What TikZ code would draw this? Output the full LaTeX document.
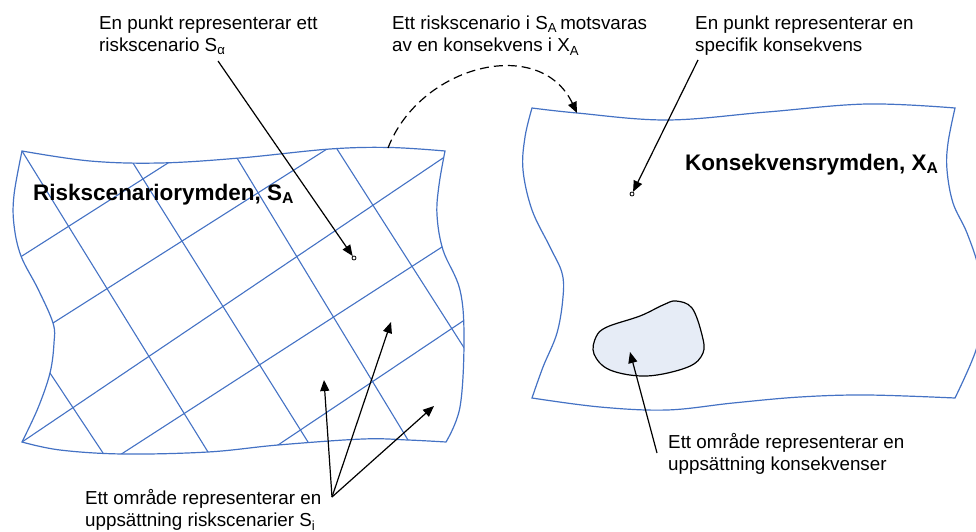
\documentclass[tikz,border=0pt]{standalone}
\usepackage{fontspec}
\setmainfont{Liberation Sans}
\usetikzlibrary{arrows.meta}
\definecolor{gridblue}{HTML}{4472C4}
\definecolor{blobfill}{RGB}{230,236,246}
\begin{document}
\begin{tikzpicture}[x=1pt,y=-1pt,
  txt/.style={anchor=base west, inner sep=0pt, align=left, font=\fontsize{18.8}{22.5}\selectfont},
  ttl/.style={anchor=base west, inner sep=0pt, font=\fontsize{22.5}{27}\selectfont\bfseries},
  edgeline/.style={draw=gridblue, line width=1.2pt},
  gridline/.style={gridblue, line width=1.1pt, shorten <=-25pt, shorten >=-25pt},
  arr/.style={draw=black, line width=1.2pt, -{Triangle[length=11pt,width=9pt]}},
  pt/.style={circle, draw=black, line width=0.8pt, inner sep=0pt, minimum size=4pt},
  leftpath/.style={insert path={(22,151)
    -- plot[smooth,tension=0.6] coordinates {(22,151) (90,161) (160,163) (240,158) (330,149) (390,147.5) (445,151)}
    -- plot[smooth,tension=0.6] coordinates {(445,151) (439,185) (437,215) (443,250) (460,290) (464,340) (460,407) (446,442)}
    -- plot[smooth,tension=0.6] coordinates {(446,442) (408,440) (363,439) (278,445) (208,452) (123,454) (60,450) (22,442)}
    -- plot[smooth,tension=0.6] coordinates {(22,442) (38,408) (50,373) (54,343) (53,323) (38,289) (21,256) (14,225) (14,195) (22,151)}
    -- cycle}},
  rightpath/.style={insert path={(532,108)
    -- plot[smooth,tension=0.6] coordinates {(532,108) (577,113) (667,120) (767,112) (867,104) (955,108)}
    -- plot[smooth,tension=0.6] coordinates {(955,108) (948,143) (947,170) (953,203) (967,233) (979,270) (983,310) (976,350) (955,398)}
    -- plot[smooth,tension=0.6] coordinates {(955,398) (867,395) (800,397) (733,403) (667,410) (600,407) (532,398)}
    -- plot[smooth,tension=0.6] coordinates {(532,398) (543,367) (557,333) (563,297) (562,273) (550,247) (532,210) (523,170) (525,137) (532,108)}
    -- cycle}}
]
\useasboundingbox (0,0) rectangle (976,532);

% left panel: grid clipped to the outline
\begin{scope}
  \clip[leftpath];
  \draw[gridline] (50,373) -- (103,453);
  \draw[gridline] (22,151) -- (208,452);
  \draw[gridline] (133,163) -- (308,442);
  \draw[gridline] (237,158) -- (408,440);
  \draw[gridline] (337,149) -- (461,343);
  \draw[gridline] (22,256) -- (168,163);
  \draw[gridline] (53,323) -- (327,149);
  \draw[gridline] (22,442) -- (443,158);
  \draw[gridline] (123,453) -- (442,247);
  \draw[gridline] (278,445) -- (460,323);
\end{scope}
\draw[edgeline, leftpath];

% right panel
\draw[edgeline, rightpath];

% region in the right panel
\draw[fill=blobfill, line width=1.2pt] plot[smooth cycle, tension=0.6] coordinates
  {(607,327) (640,316) (663,305) (676,301) (692,308) (702,335) (703,353) (688,367) (647,376) (610,370) (594,354) (596,337)};

% titles
\node[ttl] (sa) at (33,200) {Riskscenariorymden, S\textsubscript{A}};
\node[ttl] (xa) at (685,170) {Konsekvensrymden, X\textsubscript{A}};

% texts (base anchor = baseline of the last line)
\node[txt] (t1) at (99,52) {En punkt representerar ett\\riskscenario S\textsubscript{α}};
\node[txt] (t2) at (392,52) {Ett riskscenario i S\textsubscript{A}\,motsvaras\\av en konsekvens i X\textsubscript{A}};
\node[txt] (t3) at (695,52) {En punkt representerar en\\specifik konsekvens};
\node[txt] (t4) at (85,526.5) {Ett område representerar en\\uppsättning riskscenarier S\textsubscript{i}};
\node[txt] (t5) at (668,470.5) {Ett område representerar en\\uppsättning konsekvenser};

% points
\node[pt] (pa) at (354,258) {};
\node[pt] (px) at (632,194) {};

% connector ends
\coordinate (c1) at (218,61);
\coordinate (c3) at (698,60);
\coordinate (c4) at (332,497);
\coordinate (c5) at (657,453);
\coordinate (r1) at (324,380);
\coordinate (r2) at (391,322);
\coordinate (r3) at (434,406);
\coordinate (rb) at (630,352);
\coordinate (dstart) at (388,148);
\coordinate (dend) at (577,113);

% connectors
\draw[arr] (c1) -- (pa);
\draw[arr] (c3) -- (px);
\draw[arr] (c4) -- (r1);
\draw[arr] (c4) -- (r2);
\draw[arr] (c4) -- (r3);
\draw[arr] (c5) -- (rb);
\draw[arr, dash pattern=on 9pt off 5pt] (dstart) .. controls (420,65) and (540,35) .. (dend);
\end{tikzpicture}
\end{document}
